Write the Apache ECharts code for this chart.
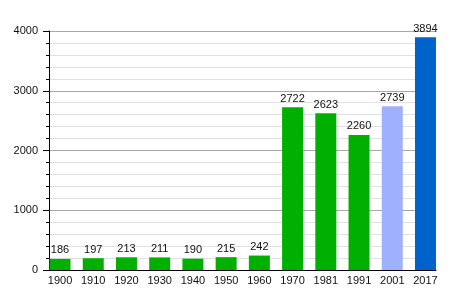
<!DOCTYPE html>
<html><head><meta charset="utf-8">
<script src="https://cdn.jsdelivr.net/npm/echarts@6/dist/echarts.min.js"></script>
<style>html,body{margin:0;padding:0;background:#fff}#c{width:464px;height:300px}</style>
</head><body><div id="c"></div>
<script>
const years = ['1900','1910','1920','1930','1940','1950','1960','1970','1981','1991','2001','2017'];
const population = [186,197,213,211,190,215,242,2722,2623,2260,2739,3894];
const barColors = ['#00b000','#00b000','#00b000','#00b000','#00b000','#00b000','#00b000','#00b000','#00b000','#00b000','#9fb0ff','#0063cc'];
const yTicks = [0,1000,2000,3000,4000];

const chart = echarts.init(document.getElementById('c'), null, {renderer:'canvas'});
const font = 'Liberation Sans, Arial, sans-serif';
chart.setOption({
  animation:false,
  grid:[
    {left:43.4, right:21.9, top:31, bottom:30},
    {left:49, right:28, top:31, bottom:30}
  ],
  xAxis:[
    {type:'category', gridIndex:0, data:years, boundaryGap:true,
     axisLine:{show:false}, axisTick:{show:false},
     axisLabel:{color:'#111', fontSize:11, fontFamily:font, margin:5, interval:0}},
    {type:'value', gridIndex:1, min:0, max:1, axisLine:{show:true, onZero:false, lineStyle:{color:'#000', width:1}},
     axisTick:{show:false}, axisLabel:{show:false}, splitLine:{show:false}}
  ],
  yAxis:[
    {type:'value', gridIndex:0, min:yTicks[0], max:yTicks[yTicks.length-1], interval:1000, show:false, splitLine:{show:false}},
    {type:'value', gridIndex:1, min:yTicks[0], max:yTicks[yTicks.length-1], interval:1000,
     axisLine:{show:true, lineStyle:{color:'#000', width:1}},
     axisTick:{show:true, length:6, lineStyle:{color:'#000'}},
     minorTick:{show:true, splitNumber:5, length:3, lineStyle:{color:'#000'}},
     axisLabel:{color:'#111', fontSize:11, fontFamily:font, margin:11, formatter:(v)=>String(v)},
     splitLine:{show:true, lineStyle:{color:'#a8a8a8', width:1}},
     minorSplitLine:{show:true, lineStyle:{color:'#e0e0e0', width:1}}}
  ],
  series:[{
    type:'bar', xAxisIndex:0, yAxisIndex:0, barWidth:21,
    data: population.map((v,i)=>({value:v, itemStyle:{color:barColors[i]}})),
    label:{show:true, position:'top', distance:3, color:'#111', fontSize:11, fontFamily:font},
    z:3
  }]
});
</script></body></html>
